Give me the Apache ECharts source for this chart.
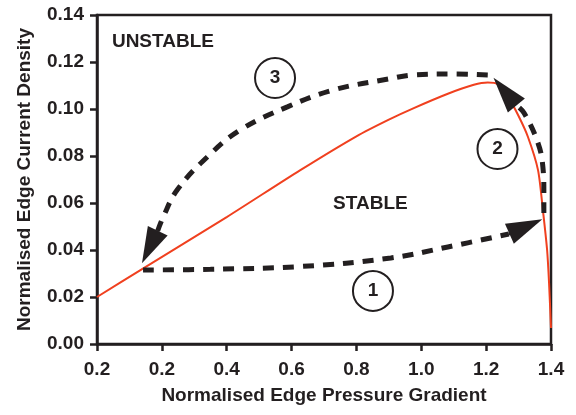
<!DOCTYPE html>
<html>
<head>
<meta charset="utf-8">
<script src="https://cdn.jsdelivr.net/npm/echarts@6/dist/echarts.min.js"></script>
<style>
  html, body { margin: 0; padding: 0; background: #fff; }
  #echartsBox { width: 576px; height: 415px; }
</style>
</head>
<body>
<div id="echartsBox"></div>
<script>
// tick labels as printed on the original (first two both read 0.2)
const xTickLabels = ['0.2', '0.2', '0.4', '0.6', '0.8', '1.0', '1.2', '1.4'];

// red stability boundary
const boundary = [
  [0, 0.02], [0.139, 0.0319], [0.4, 0.054], [0.627, 0.074], [0.8, 0.0884],
  [0.9, 0.0955], [0.977, 0.1004], [1.082, 0.1065], [1.162, 0.1103],
  [1.205, 0.1113], [1.235, 0.1106], [1.27, 0.1045], [1.3, 0.097],
  [1.329, 0.0881], [1.36, 0.074], [1.375, 0.057], [1.388, 0.04],
  [1.394, 0.026], [1.4, 0.0068]
];

// dashed cycle paths (each ends at the base of its arrow head)
const path1 = [
  [0.142, 0.0315], [0.35, 0.0318], [0.63, 0.033], [0.906, 0.0366],
  [1.082, 0.0413], [1.27, 0.0468]
];
const path2 = [
  [1.378, 0.0557], [1.378, 0.0643], [1.375, 0.0753], [1.36, 0.0855],
  [1.317, 0.0983], [1.292, 0.1017]
];
const path3 = [
  [1.205, 0.1145], [1.1, 0.1149], [0.977, 0.1145], [0.9, 0.1128],
  [0.729, 0.1081], [0.587, 0.1009], [0.442, 0.0911], [0.34, 0.0796],
  [0.247, 0.0655], [0.204, 0.054], [0.187, 0.0481]
];

// arrow heads: [base, centre] for each path
const arrow1 = [[1.27, 0.0468], [1.3225, 0.05]];
const arrow2 = [[1.292, 0.1017], [1.258, 0.1074]];
const arrow3 = [[0.187, 0.0481], [0.163, 0.0413]];

// text in the plot (left edge, vertical centre)
const regionLabels = [
  [0.046, 0.1285, 'UNSTABLE'],
  [0.728, 0.0596, 'STABLE']
];
const stepLabels = [
  [0.851, 0.0226, '1'],
  [1.235, 0.083, '2'],
  [0.549, 0.1132, '3']
];

const ink = '#231f20';
const font = "'Liberation Sans', Arial, sans-serif";

function dashedPath(data, arrow) {
  return {
    type: 'line',
    data: data,
    smooth: 0.4,
    symbol: 'none',
    silent: true,
    z: 3,
    lineStyle: { color: ink, width: 5, type: [11, 9], cap: 'butt' },
    markLine: {
      silent: true,
      animation: false,
      symbol: ['none', 'triangle'],
      symbolSize: [22, 36],
      label: { show: false },
      lineStyle: { color: ink, width: 3, type: 'solid' },
      data: [[{ coord: arrow[0] }, { coord: arrow[1] }]]
    }
  };
}

var myChart = echarts.init(document.getElementById('echartsBox'));
myChart.setOption({
  animation: false,
  textStyle: { fontFamily: font },
  grid: {
    left: 97, right: 25, top: 15, bottom: 71,
    show: true, borderColor: ink, borderWidth: 2.5
  },
  xAxis: {
    type: 'value',
    min: 0, max: 1.4, interval: 0.2,
    name: 'Normalised Edge Pressure Gradient',
    nameLocation: 'middle',
    nameGap: 42,
    nameTextStyle: { fontSize: 19, fontWeight: 'bold', color: ink, fontFamily: font },
    axisLine: { onZero: false, lineStyle: { color: ink, width: 2.5 } },
    axisTick: { length: 7, lineStyle: { color: ink, width: 2.5 } },
    axisLabel: {
      fontSize: 19, fontWeight: 'bold', color: ink, margin: 16, fontFamily: font,
      formatter: v => xTickLabels[Math.round(v / 0.2)]
    },
    splitLine: { show: false }
  },
  yAxis: {
    type: 'value',
    min: 0, max: 0.14, interval: 0.02,
    name: 'Normalised Edge Current Density',
    nameLocation: 'middle',
    nameGap: 63,
    nameTextStyle: { fontSize: 19, fontWeight: 'bold', color: ink, fontFamily: font },
    axisLine: { onZero: false, lineStyle: { color: ink, width: 2.5 } },
    axisTick: { length: 7, lineStyle: { color: ink, width: 2.5 } },
    axisLabel: {
      fontSize: 19, fontWeight: 'bold', color: ink, margin: 13, fontFamily: font,
      formatter: v => v.toFixed(2)
    },
    splitLine: { show: false }
  },
  series: [
    {
      type: 'line',
      data: boundary,
      smooth: 0.25,
      symbol: 'none',
      silent: true,
      z: 2,
      lineStyle: { color: '#f0401f', width: 2 }
    },
    dashedPath(path1, arrow1),
    dashedPath(path2, arrow2),
    dashedPath(path3, arrow3),
    {
      type: 'scatter',
      data: regionLabels,
      symbolSize: 0,
      silent: true,
      z: 5,
      itemStyle: { opacity: 1 },
      label: {
        show: true,
        formatter: p => p.data[2],
        position: 'inside',
        align: 'left',
        textBorderWidth: 0,
        fontSize: 19, fontWeight: 'bold', color: ink, fontFamily: font
      }
    },
    {
      type: 'scatter',
      data: stepLabels,
      symbol: 'circle',
      symbolSize: 40,
      silent: true,
      z: 6,
      itemStyle: { color: '#fff', borderColor: ink, borderWidth: 2, opacity: 1 },
      label: {
        show: true,
        formatter: p => p.data[2],
        position: 'inside',
        textBorderWidth: 0,
        fontSize: 19, fontWeight: 'bold', color: ink, fontFamily: font
      }
    }
  ]
});
</script>
</body>
</html>
